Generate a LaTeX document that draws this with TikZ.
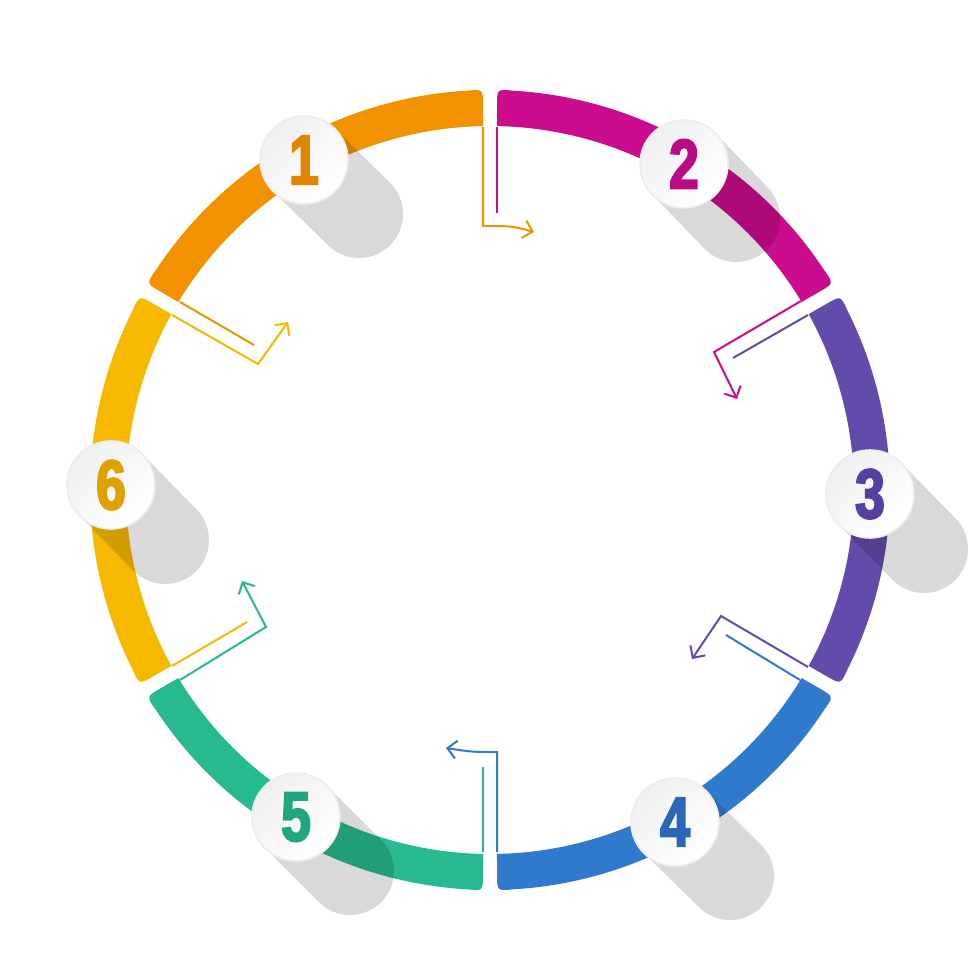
\documentclass[tikz,border=0pt]{standalone}
\usepackage{fontspec}
\usetikzlibrary{arrows.meta}
\newfontfamily\numfont[FakeStretch=0.76,FakeBold=3]{Liberation Sans Bold}
\definecolor{cOrange}{HTML}{F39200}
\definecolor{cMagenta}{HTML}{CC0C8E}
\definecolor{cPurple}{HTML}{634BAB}
\definecolor{cBlue}{HTML}{2F7ACD}
\definecolor{cGreen}{HTML}{27B98F}
\definecolor{cYellow}{HTML}{F6B900}
\definecolor{tOrange}{HTML}{E08500}
\definecolor{tMagenta}{HTML}{BB0B84}
\definecolor{tPurple}{HTML}{553FA0}
\definecolor{tBlue}{HTML}{2A68B5}
\definecolor{tGreen}{HTML}{22A67F}
\definecolor{tYellow}{HTML}{DFA100}
\tikzset{
  numdisc/.style={circle,minimum size=44pt,inner sep=0pt,draw=black!7,line width=0.8pt,
    left color=black!6,right color=white,shading angle=45,
    font=\numfont\fontsize{35}{35}\selectfont},
  dropshade/.style={line width=44pt,line cap=round,draw=black,draw opacity=0.15},
  linkline/.style={line width=1pt,line join=miter},
  linkarrow/.style={linkline,-{Straight Barb[length=4.5pt,width=9pt]}}
}
\newcommand{\ringseg}[3]{%
  \pgfmathsetmacro{\sa}{-(#1+1.1)}\pgfmathsetmacro{\sb}{-(#1+1.05)}\pgfmathsetmacro{\sc}{-(#1+1)}\pgfmathsetmacro{\sd}{-(#1+3.3)}
  \pgfmathsetmacro{\ea}{-(#2-1.1)}\pgfmathsetmacro{\eb}{-(#2-1.05)}\pgfmathsetmacro{\ec}{-(#2-1)}\pgfmathsetmacro{\ed}{-(#2-3.3)}
  \fill[#3,shift={(490,490)}] (\sa:364) -- (\sb:384) .. controls (\sc:401) .. (\sd:400)
    arc[start angle=\sd,end angle=\ed,radius=400]
    .. controls (\ec:401) .. (\eb:384) -- (\ea:364)
    arc[start angle=\ea,end angle=\sa,radius=364] -- cycle;
}
\begin{document}
\begin{tikzpicture}[x=0.5pt,y=-0.5pt]
\useasboundingbox (0,0) rectangle (980,980);
\fill[white] (0,0) rectangle (980,980);
\ringseg{90}{150}{cOrange}
\ringseg{30}{90}{cMagenta}
\ringseg{-30}{30}{cPurple}
\ringseg{-90}{-30}{cBlue}
\ringseg{-150}{-90}{cGreen}
\ringseg{150}{210}{cYellow}
% positions
\coordinate (c1) at (304,160); \coordinate (s1) at (359,214);
\coordinate (c2) at (684,164); \coordinate (s2) at (736,218);
\coordinate (c3) at (870,494); \coordinate (s3) at (924,549);
\coordinate (c4) at (675,822); \coordinate (s4) at (730,876);
\coordinate (c5) at (296,817); \coordinate (s5) at (350,871);
\coordinate (c6) at (111,485); \coordinate (s6) at (165,540);
\foreach \k in {1,...,6}{\draw[dropshade] (c\k) -- (s\k);}
% connectors
\coordinate (a1) at (483,127); \coordinate (a2) at (483,226); \coordinate (a3) at (534,232);
\draw[linkarrow,cOrange] (a1) -- (a2) .. controls (512,226) .. (a3);
\coordinate (b1) at (497,127); \coordinate (b2) at (497,213);
\draw[linkline,cMagenta] (b1) -- (b2);
\coordinate (d1) at (801,301); \coordinate (d2) at (714,352); \coordinate (d3) at (737,399);
\draw[linkarrow,cMagenta] (d1) -- (d2) -- (d3);
\coordinate (e1) at (808,315); \coordinate (e2) at (733,358);
\draw[linkline,cPurple] (e1) -- (e2);
\coordinate (f1) at (808,667); \coordinate (f2) at (721,616); \coordinate (f3) at (692,659);
\draw[linkarrow,cPurple] (f1) -- (f2) -- (f3);
\coordinate (g1) at (800,680); \coordinate (g2) at (726,635);
\draw[linkline,cBlue] (g1) -- (g2);
\coordinate (h1) at (497,852); \coordinate (h2) at (497,752); \coordinate (h3) at (446,748);
\draw[linkarrow,cBlue] (h1) -- (h2) .. controls (472,752) .. (h3);
\coordinate (i1) at (483,852); \coordinate (i2) at (483,767);
\draw[linkline,cGreen] (i1) -- (i2);
\coordinate (j1) at (172,666); \coordinate (j2) at (247,622);
\draw[linkline,cYellow] (j1) -- (j2);
\coordinate (k1) at (180,680); \coordinate (k2) at (266,627); \coordinate (k3) at (242,581);
\draw[linkarrow,cGreen] (k1) -- (k2) -- (k3);
\coordinate (l1) at (172,315); \coordinate (l2) at (258,364); \coordinate (l3) at (288,322);
\draw[linkarrow,cYellow] (l1) -- (l2) -- (l3);
\coordinate (m1) at (180,302); \coordinate (m2) at (254,345);
\draw[linkline,cOrange] (m1) -- (m2);
% discs
\node[numdisc,text=tOrange] (n1) at (c1) {1};
\node[numdisc,text=tMagenta] (n2) at (c2) {2};
\node[numdisc,text=tPurple] (n3) at (c3) {3};
\node[numdisc,text=tBlue] (n4) at (c4) {4};
\node[numdisc,text=tGreen] (n5) at (c5) {5};
\node[numdisc,text=tYellow] (n6) at (c6) {6};
\end{tikzpicture}
\end{document}
